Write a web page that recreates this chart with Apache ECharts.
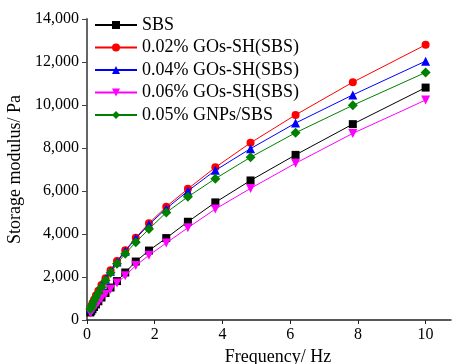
<!DOCTYPE html>
<html>
<head>
<meta charset="utf-8">
<script src="https://cdn.jsdelivr.net/npm/echarts@6/dist/echarts.min.js"></script>
<style>
  html, body { margin: 0; padding: 0; background: #fff; }
  #chart { width: 452px; height: 364px; }
</style>
</head>
<body>
<div id="chart"></div>
<script>
// Frequency sweep points (Hz)
const frequency = [0.1, 0.127, 0.162, 0.207, 0.264, 0.336, 0.428, 0.546, 0.695, 0.886,
                   1.13, 1.44, 1.83, 2.34, 2.98, 3.79, 4.83, 6.16, 7.85, 10];

// Storage modulus (Pa) per binder
const sbs      = [350, 420, 505, 605, 725, 870, 1045, 1255, 1510, 1810,
                  2210, 2720, 3230, 3810, 4570, 5470, 6490, 7680, 9110, 10810];
const gos002   = [545, 655, 790, 945, 1135, 1360, 1625, 1940, 2310, 2740,
                  3240, 3830, 4500, 5270, 6100, 7100, 8240, 9540, 11060, 12800];
const gos004   = [535, 645, 775, 930, 1120, 1340, 1600, 1910, 2270, 2700,
                  3200, 3790, 4440, 5180, 6000, 6960, 7970, 9160, 10470, 12040];
const gos006   = [330, 400, 480, 575, 690, 830, 995, 1195, 1430, 1720,
                  2060, 2530, 3010, 3580, 4290, 5160, 6120, 7290, 8680, 10230];
const gnp005   = [512, 614, 737, 884, 1061, 1273, 1528, 1833, 2200, 2617,
                  3084, 3620, 4230, 5000, 5730, 6575, 7570, 8710, 9986, 11514];

const seriesNames = ['SBS', '0.02% GOs-SH(SBS)', '0.04% GOs-SH(SBS)', '0.06% GOs-SH(SBS)', '0.05% GNPs/SBS'];
const seriesValues = [sbs, gos002, gos004, gos006, gnp005];
const seriesColors = ['#000000', '#ff0000', '#0000ff', '#ff00ff', '#008000'];
const seriesSymbols = ['rect', 'circle', 'triangle', 'triangle', 'diamond'];
const symbolRotations = [0, 0, 0, 180, 0];
const symbolSizes = [8, 8, 9, 9, 10];

const yTicks = [0, 2000, 4000, 6000, 8000, 10000, 12000, 14000];

const font = 'Liberation Serif, Times New Roman, serif';

const chart = echarts.init(document.getElementById('chart'));

const series = seriesNames.map((name, i) => ({
  name: name,
  type: 'line',
  data: frequency.map((f, k) => [f, seriesValues[i][k]]),
  symbol: seriesSymbols[i],
  symbolRotate: symbolRotations[i],
  symbolSize: symbolSizes[i],
  showAllSymbol: true,
  lineStyle: { color: seriesColors[i], width: 1 },
  itemStyle: { color: seriesColors[i] },
  emphasis: { disabled: true },
  animation: false,
  z: 2 + i
}));

chart.setOption({
  backgroundColor: '#ffffff',
  animation: false,
  grid: { left: 87, right: 1, top: 19, bottom: 44, containLabel: false, outerBoundsMode: 'none' },
  legend: {
    orient: 'vertical',
    left: 94,
    top: 16,
    padding: 0,
    itemWidth: 42,
    itemHeight: 10,
    itemGap: 4.5,
    data: seriesNames,
    textStyle: { fontFamily: font, fontSize: 18, color: '#000', lineHeight: 18 }
  },
  xAxis: {
    type: 'value',
    min: 0,
    max: 10.75,
    interval: 2,
    name: 'Frequency/ Hz',
    nameLocation: 'middle',
    nameGap: 27,
    nameTextStyle: { fontFamily: font, fontSize: 18, color: '#000', padding: [0, 0, 0, 18] },
    axisLine: { lineStyle: { color: '#222', width: 1.5 } },
    axisTick: { inside: false, length: 4, lineStyle: { color: '#222', width: 1 } },
    axisLabel: { fontFamily: font, fontSize: 16, color: '#000', margin: 7, showMaxLabel: false },
    splitLine: { show: false }
  },
  yAxis: {
    type: 'value',
    min: yTicks[0],
    max: yTicks[yTicks.length - 1],
    interval: 2000,
    name: 'Storage modulus/ Pa',
    nameLocation: 'middle',
    nameGap: 57,
    nameTextStyle: { fontFamily: font, fontSize: 18, color: '#000' },
    axisLine: { show: true, lineStyle: { color: '#666', width: 2 } },
    axisTick: { show: true, inside: false, length: 5, lineStyle: { color: '#444', width: 1 } },
    axisLabel: {
      fontFamily: font, fontSize: 16, color: '#000', margin: 8,
      formatter: v => v.toLocaleString('en-US')
    },
    splitLine: { show: false }
  },
  series: series
});
</script>
</body>
</html>
